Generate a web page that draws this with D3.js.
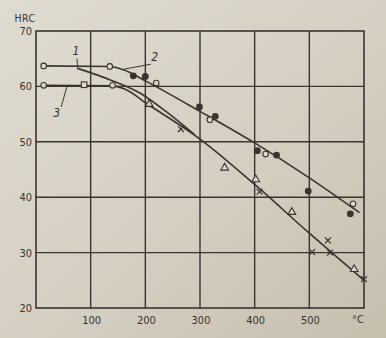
<!DOCTYPE html>
<html>
<head>
<meta charset="utf-8">
<script src="https://cdn.jsdelivr.net/npm/d3@7"></script>
<style>
  html, body { margin: 0; padding: 0; background: #d8d2c5; }
  svg { display: block; }
</style>
</head>
<body>
<svg id="chart" width="386" height="338"></svg>
<script>
// ---- data (temperature °C, hardness HRC) ----
const xTicks = [100, 200, 300, 400, 500];
const xTickLabels = ["100", "200", "300", "400", "500"];
const yTicks = [20, 30, 40, 50, 60, 70];
const yTickLabels = ["20", "30", "40", "50", "60", "70"];
const yAxisTitle = "HRC";
const xAxisUnit = "°C";

// curve 2 (upper)
const curve2Line = [[14, 63.7], [135, 63.6], [160, 63.0], [200, 61.0], [300, 55.5], [400, 49.8], [500, 43.5], [592, 37.2]];
const curve2Filled = [[178, 61.9], [200, 61.8], [299, 56.3], [328, 54.6], [405, 48.4], [440, 47.6], [498, 41.1], [575, 37.0]];
const curve2Open = [[14, 63.7], [135, 63.6], [220, 60.6], [318, 54.0], [420, 47.8], [580, 38.8]];

// curve 1 (middle, merges with 3)
const curve1Line = [[75, 63.3], [135, 61.2], [190, 58.8], [240, 55.3], [290, 51.3]];

// curve 3 (lower)
const curve3Line = [[14, 60.2], [140, 60.1], [160, 59.6], [207, 56.6], [300, 50.5], [400, 42.3], [500, 33.5], [600, 25.0]];
const curve3Circles = [[14, 60.2], [140, 60.2]];
const curve3Squares = [[88, 60.3]];
const curve3Triangles = [[207, 56.8], [345, 45.3], [402, 43.2], [468, 37.3], [582, 27.0]];
const curve3Crosses = [[265, 52.3], [409, 41.0], [505, 30.1], [534, 32.2], [538, 30.0], [600, 25.2]];

const curveLabels = ["1", "2", "3"];

// ---- layout ----
const W = 386, H = 338;
const m = { left: 36, right: 22, top: 31, bottom: 30 };
const ink = "#3a342e";

const svg = d3.select("#chart");
const defs = svg.append("defs");
const grad = defs.append("linearGradient").attr("id", "paper")
  .attr("x1", "0").attr("y1", "0").attr("x2", "1").attr("y2", "1");
grad.append("stop").attr("offset", "0%").attr("stop-color", "#e0dbd1");
grad.append("stop").attr("offset", "55%").attr("stop-color", "#d5cfc2");
grad.append("stop").attr("offset", "100%").attr("stop-color", "#c6bead");
svg.append("rect").attr("width", W).attr("height", H).attr("fill", "url(#paper)");

const x = d3.scaleLinear().domain([0, 600]).range([m.left, W - m.right]);
const y = d3.scaleLinear().domain([20, 70]).range([H - m.bottom, m.top]);

// grid
const g = svg.append("g");
g.selectAll("line.vx").data(xTicks).join("line")
  .attr("x1", d => x(d)).attr("x2", d => x(d))
  .attr("y1", y(70)).attr("y2", y(20))
  .attr("stroke", ink).attr("stroke-width", 1.4);
g.selectAll("line.hy").data(yTicks.filter(v => v > 20 && v < 70)).join("line")
  .attr("class", "hy")
  .attr("x1", x(0)).attr("x2", x(600))
  .attr("y1", d => y(d)).attr("y2", d => y(d))
  .attr("stroke", ink).attr("stroke-width", 1.4);
g.append("rect")
  .attr("x", x(0)).attr("y", y(70))
  .attr("width", x(600) - x(0)).attr("height", y(20) - y(70))
  .attr("fill", "none").attr("stroke", ink).attr("stroke-width", 1.6);

// axis labels
const font = "'DejaVu Sans Condensed', 'DejaVu Sans', sans-serif";
const lab = svg.append("g").attr("fill", ink).attr("font-family", font).attr("font-size", 11);
lab.selectAll("text.yt").data(yTicks).join("text")
  .attr("x", x(0) - 4).attr("y", d => y(d) + 4)
  .attr("text-anchor", "end").text((d, i) => yTickLabels[i]);
lab.selectAll("text.xt").data(xTicks).join("text")
  .attr("class", "xt")
  .attr("x", d => x(d) + 1).attr("y", y(20) + 16)
  .attr("text-anchor", "middle").text((d, i) => xTickLabels[i]);
lab.append("text").attr("x", x(600) - 6).attr("y", y(20) + 15)
  .attr("text-anchor", "middle").text(xAxisUnit);
lab.append("text").attr("x", 25).attr("y", 22)
  .attr("text-anchor", "middle").attr("font-size", 10.5).attr("letter-spacing", 0.5).text(yAxisTitle);

// curves
const line = d3.line().x(d => x(d[0])).y(d => y(d[1])).curve(d3.curveMonotoneX);
const cg = svg.append("g").attr("fill", "none").attr("stroke", ink).attr("stroke-width", 1.6);
[curve2Line, curve1Line, curve3Line].forEach(data => {
  cg.append("path").datum(data).attr("d", line);
});

// markers
const mk = svg.append("g");
mk.selectAll("circle.f").data(curve2Filled).join("circle")
  .attr("class", "f")
  .attr("cx", d => x(d[0])).attr("cy", d => y(d[1])).attr("r", 3.4)
  .attr("fill", ink);
mk.selectAll("circle.o").data(curve2Open.concat(curve3Circles)).join("circle")
  .attr("class", "o")
  .attr("cx", d => x(d[0])).attr("cy", d => y(d[1])).attr("r", 2.8)
  .attr("fill", "#ddd8cd").attr("stroke", ink).attr("stroke-width", 1.1);
mk.selectAll("rect.s").data(curve3Squares).join("rect")
  .attr("class", "s")
  .attr("x", d => x(d[0]) - 2.8).attr("y", d => y(d[1]) - 2.8).attr("width", 5.6).attr("height", 5.6)
  .attr("fill", "#ddd8cd").attr("stroke", ink).attr("stroke-width", 1.1);
const tri = d3.symbol().type(d3.symbolTriangle).size(26);
mk.selectAll("path.t").data(curve3Triangles).join("path")
  .attr("class", "t")
  .attr("transform", d => `translate(${x(d[0])},${y(d[1])})`)
  .attr("d", tri)
  .attr("fill", "#ddd8cd").attr("stroke", ink).attr("stroke-width", 1.1);
const cross = d3.symbol().type(d3.symbolX).size(24);
mk.selectAll("path.x").data(curve3Crosses).join("path")
  .attr("class", "x")
  .attr("transform", d => `translate(${x(d[0])},${y(d[1])})`)
  .attr("d", cross)
  .attr("fill", "none").attr("stroke", ink).attr("stroke-width", 1.2);

// curve labels with leaders
const labelPos = [
  { t: curveLabels[0], tx: 73, ty: 65.6, lx1: 75, ly1: 65.0, lx2: 76, ly2: 63.4 },
  { t: curveLabels[1], tx: 217, ty: 64.6, lx1: 210, ly1: 64.0, lx2: 160, ly2: 63.1 },
  { t: curveLabels[2], tx: 38, ty: 54.4, lx1: 46, ly1: 56.3, lx2: 57, ly2: 60.1 }
];
const lg = svg.append("g");
lg.selectAll("line").data(labelPos).join("line")
  .attr("x1", d => x(d.lx1)).attr("y1", d => y(d.ly1))
  .attr("x2", d => x(d.lx2)).attr("y2", d => y(d.ly2))
  .attr("stroke", ink).attr("stroke-width", 1);
lg.selectAll("text").data(labelPos).join("text")
  .attr("x", d => x(d.tx)).attr("y", d => y(d.ty))
  .attr("text-anchor", "middle")
  .attr("font-family", font).attr("font-size", 12).attr("font-style", "italic")
  .attr("fill", ink).text(d => d.t);
</script>
</body>
</html>
